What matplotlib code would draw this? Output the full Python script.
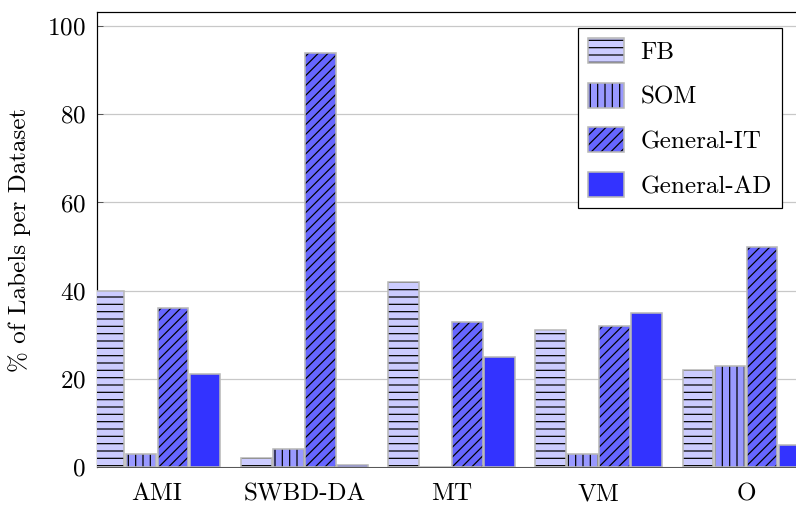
import numpy as np
import matplotlib.pyplot as plt
from matplotlib.patches import Patch

# data
datasets = ['AMI', 'SWBD-DA', 'MT', 'VM', 'O']
fb = [40, 2, 42, 31, 22]
som = [3, 4, 0, 3, 23]
general_it = [36, 94, 33, 32, 50]
general_ad = [21, 0.5, 25, 35, 5]

labels = ['FB', 'SOM', 'General-IT', 'General-AD']
colors = ['#ccccff', '#9999ff', '#6666ff', '#3333ff']
hatches = ['--', '||', '///', None]

plt.rcParams['font.family'] = ['cmr10', 'DejaVu Serif']
plt.rcParams['axes.formatter.use_mathtext'] = True
plt.rcParams['hatch.linewidth'] = 1.0
fs = 20.5

dpi = 88
fig = plt.figure(figsize=(796 / dpi, 506 / dpi), dpi=dpi)
ax = fig.add_axes([97 / 796, 39 / 506, 709 / 796, 455 / 506])

x = np.arange(len(datasets))
slot = 0.2174
width = 0.207
edge = '#b8b8b8'

handles = []
for i, vals in enumerate([fb, som, general_it, general_ad]):
    pos = x + (i - 1.5) * slot
    # fill + black hatch, then grey outline on top
    ax.bar(pos, vals, width, color=colors[i], edgecolor='black', linewidth=0,
           hatch=hatches[i], zorder=3)
    ax.bar(pos, vals, width, fill=False, edgecolor=edge, linewidth=1.3, zorder=4)
    h1 = Patch(facecolor=colors[i], edgecolor='black', linewidth=0, hatch=hatches[i])
    h2 = Patch(fill=False, edgecolor=edge, linewidth=1.3)
    handles.append((h1, h2))

ax.set_xlim(-0.408, 4.408)
ax.set_ylim(0, 103.2)
ax.set_xticks(x)
ax.set_xticklabels(datasets, fontsize=fs)
ax.set_yticks([0, 20, 40, 60, 80, 100])
ax.tick_params(axis='y', direction='in', length=5, color='#555555', labelsize=fs, pad=9)
ax.tick_params(axis='x', length=0, pad=13)
ax.set_ylabel('% of Labels per Dataset', fontsize=fs, labelpad=13)

ax.grid(axis='y', color='#c8c8c8', linewidth=1.0)
ax.set_axisbelow(True)
ax.spines['bottom'].set_color('#555555')
ax.spines['bottom'].set_zorder(2.5)
for s in ['left', 'top', 'right']:
    ax.spines[s].set_color('black')
    ax.spines[s].set_linewidth(1.0)

leg = ax.legend(handles, labels, loc='upper right',
                bbox_to_anchor=(782 / 796, 1 - 28 / 506), bbox_transform=fig.transFigure,
                fontsize=fs, fancybox=False, framealpha=1, edgecolor='black',
                handlelength=1.45, handleheight=1.15, handletextpad=0.65,
                labelspacing=0.75, borderpad=0.4, borderaxespad=0)
leg.get_frame().set_linewidth(1.0)

fig.savefig('out.png', dpi=dpi)
